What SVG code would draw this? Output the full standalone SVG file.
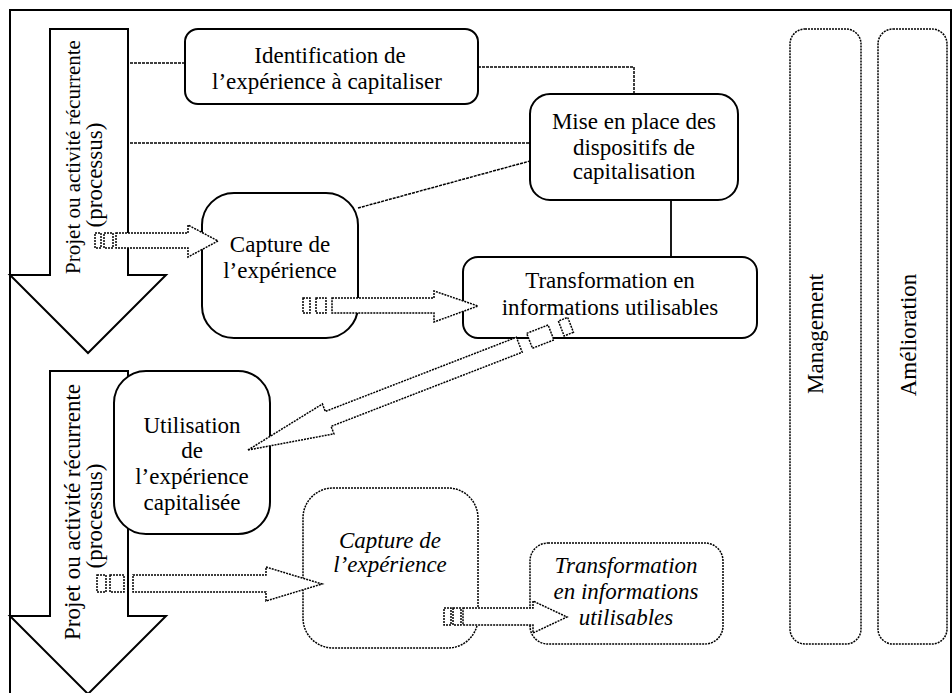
<svg xmlns="http://www.w3.org/2000/svg" width="952" height="693" viewBox="0 0 952 693">
<style>
.solid{fill:#fff;stroke:#000;stroke-width:2}
.dash{fill:#fff;stroke:#000;stroke-width:1.5;stroke-dasharray:2 1}
.conn{fill:none;stroke:#000;stroke-width:1.5;stroke-dasharray:3 1}
.line{fill:none;stroke:#000;stroke-width:1.8}
.t{font-family:"Liberation Serif","Times New Roman",serif;font-size:23px;text-anchor:middle;fill:#000}
.i{font-style:italic}
</style>
<rect x="0" y="0" width="952" height="693" fill="#fff"/>
<rect x="10" y="10" width="941" height="700" fill="none" stroke="#000" stroke-width="2"/>

<g id="process1">
<polygon class="solid" points="50,29 128,29 128,275 166,275 88,353 10,275 50,275"/>
<text class="t" transform="translate(80,157) rotate(-90)" style="font-size:21px">Projet ou activité récurrente</text>
<text class="t" transform="translate(102,175) rotate(-90)">(processus)</text>
</g>
<g id="process2">
<polygon class="solid" points="50,371 128,371 128,616 166,616 88,694 10,616 50,616"/>
<text class="t" transform="translate(80,512) rotate(-90)">Projet ou activité récurrente</text>
<text class="t" transform="translate(102,516) rotate(-90)">(processus)</text>
</g>

<g id="connectors">
<line class="conn" x1="130" y1="63" x2="185" y2="63"/>
<polyline class="conn" points="478,67 634,67 634,94"/>
<line class="conn" x1="130" y1="143" x2="530" y2="143"/>
<line class="conn" x1="358" y1="208" x2="530" y2="161"/>
<line class="line" x1="671" y1="200" x2="671" y2="257"/>
</g>

<g id="identification">
<rect class="solid" x="185" y="29" width="293" height="75" rx="13"/>
<text class="t" x="330" y="63">Identification de</text>
<text class="t" x="327" y="89">l’expérience à capitaliser</text>
</g>
<g id="miseenplace">
<rect class="solid" x="530" y="94" width="208" height="106" rx="20"/>
<text class="t" x="634" y="129">Mise en place des</text>
<text class="t" x="634" y="155">dispositifs de</text>
<text class="t" x="634" y="179">capitalisation</text>
</g>
<g id="capture">
<rect class="solid" x="202" y="193" width="156" height="145" rx="32"/>
<text class="t" x="280" y="252">Capture de</text>
<text class="t" x="280" y="278">l’expérience</text>
</g>
<g id="transformation">
<rect class="solid" x="463" y="257" width="294" height="81" rx="15"/>
<text class="t" x="610" y="288">Transformation en</text>
<text class="t" x="610" y="315">informations utilisables</text>
</g>
<g id="utilisation">
<rect class="solid" x="114" y="371" width="156" height="163" rx="32"/>
<text class="t" x="192" y="433">Utilisation</text>
<text class="t" x="192" y="458">de</text>
<text class="t" x="192" y="484">l’expérience</text>
<text class="t" x="192" y="510">capitalisée</text>
</g>
<g id="capture2">
<rect class="dash" x="303" y="488" width="175" height="160" rx="30"/>
<text class="t i" x="390" y="548">Capture de</text>
<text class="t i" x="390" y="572">l’expérience</text>
</g>
<g id="transformation2">
<rect class="dash" x="530" y="543" width="193" height="101" rx="18"/>
<text class="t i" x="626" y="573">Transformation</text>
<text class="t i" x="626" y="599">en informations</text>
<text class="t i" x="626" y="625">utilisables</text>
</g>
<g id="management">
<rect class="dash" x="790" y="29" width="71" height="615" rx="15"/>
<text class="t" transform="translate(823,334) rotate(-90)">Management</text>
</g>
<g id="amelioration">
<rect class="dash" x="878" y="29" width="69" height="615" rx="15"/>
<text class="t" transform="translate(916,335) rotate(-90)">Amélioration</text>
</g>

<g id="flow-arrows">
<polygon class="dash" points="116,233 188,233 188,225 218,241 188,257 188,248 116,248"/>
<rect class="dash" x="95" y="233" width="6" height="15"/>
<rect class="dash" x="104" y="233" width="9" height="15"/>

<polygon class="dash" points="332,298 434,298 434,291 478,306 434,322 434,313 332,313"/>
<rect class="dash" x="303" y="298" width="7" height="15"/>
<rect class="dash" x="316" y="298" width="10" height="15"/>

<g transform="translate(248,450) rotate(158.8)">
<polygon class="dash" points="0,0 -86,-16 -86,-8 -291,-8 -291,8 -86,8 -86,16"/>
<rect class="dash" x="-325" y="-8" width="23" height="16"/>
<rect class="dash" x="-346" y="-8" width="10" height="16"/>
</g>

<polygon class="dash" points="133,575 266,575 266,567 322,584 266,601 266,592 133,592"/>
<rect class="dash" x="97" y="575" width="9" height="17"/>
<rect class="dash" x="110" y="575" width="14" height="17"/>

<polygon class="dash" points="463,608 533,608 533,601 567,617 533,633 533,625 463,625"/>
<rect class="dash" x="444" y="608" width="7" height="17"/>
<rect class="dash" x="453" y="608" width="8" height="17"/>
</g>
</svg>
